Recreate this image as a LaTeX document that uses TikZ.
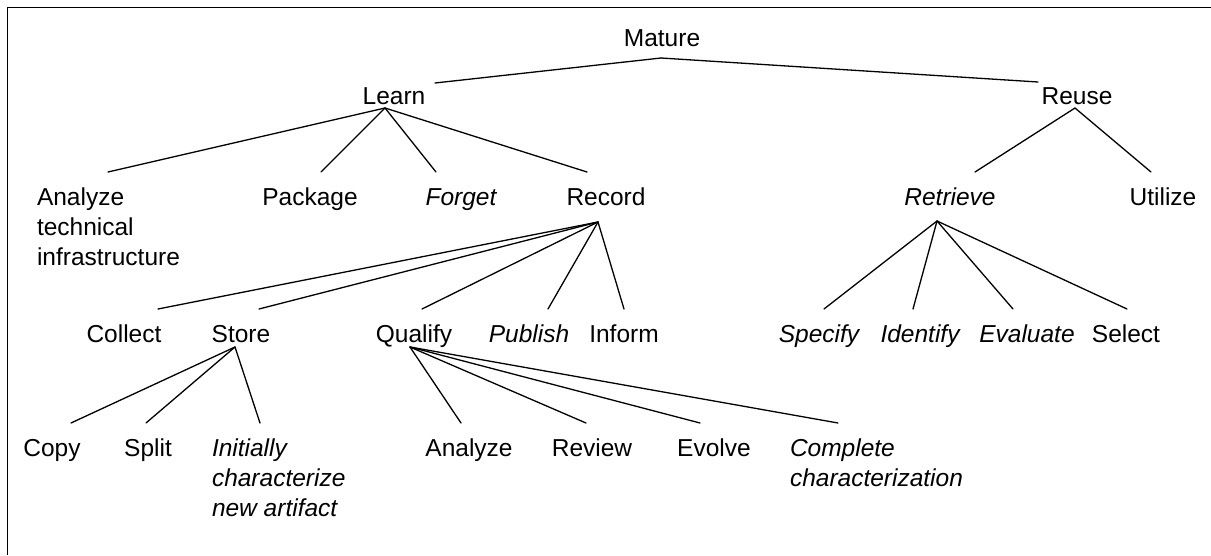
\documentclass[tikz,border=0pt]{standalone}
\usepackage{fontspec}
\setmainfont{Liberation Sans}
\usetikzlibrary{calc}
\newcommand\mlines[1]{\begin{tabular}[t]{@{}l@{}}#1\end{tabular}}
\begin{document}
\begin{tikzpicture}[x=1pt,y=-1pt,
  every node/.style={inner sep=0pt,outer sep=0pt,anchor=base,font=\fontsize{24.5}{30}\selectfont},
  it/.style={font=\fontsize{24.5}{30}\selectfont\itshape},
  ml/.style={anchor=base west},
  link/.style={line width=1.3pt,line cap=round},
  frame/.style={line width=1.6pt}]
\useasboundingbox (0,0) rectangle (1211,555);
\draw[frame] (7.5,555) |- (1211,7.5);
% level 0-1
\node (mature) at (662,46.5) {Mature};
\node (learn) at (394,104) {Learn};
\node (reuse) at (1077,104) {Reuse};
% level 2
\node[ml] (analyze) at (37,205) {\mlines{Analyze\\technical\\infrastructure}};
\node (package) at (310,205) {Package};
\node[it] (forget) at (461,205) {Forget};
\node (record) at (606,205) {Record};
\node[it] (retrieve) at (950,205) {Retrieve};
\node (utilize) at (1163,205) {Utilize};
% level 3
\node (collect) at (124,342) {Collect};
\node (store) at (241,342) {Store};
\node (qualify) at (414,342) {Qualify};
\node[it] (publish) at (529,342) {Publish};
\node (inform) at (624,342) {Inform};
\node[it] (specify) at (819,342) {Specify};
\node[it] (identify) at (920,342) {Identify};
\node[it] (evaluate) at (1027,342) {Evaluate};
\node (select) at (1126,342) {Select};
% level 4
\node (copy) at (52,456) {Copy};
\node (split) at (148,456) {Split};
\node[ml,it] (initially) at (212,456) {\mlines{Initially\\characterize\\new artifact}};
\node (analyzeq) at (469,456) {Analyze};
\node (review) at (592,456) {Review};
\node (evolve) at (714,456) {Evolve};
\node[ml,it] (complete) at (790,456) {\mlines{Complete\\characterization}};
% junctions
\coordinate (matureJ) at ($(mature.base)+(-1,11.5)$);
\coordinate (learnJ) at ($(learn.base)+(-9,4)$);
\coordinate (reuseJ) at ($(reuse.base)+(-2,4)$);
\coordinate (recordJ) at ($(record.base)+(-8,17)$);
\coordinate (retrieveJ) at ($(retrieve.base)+(-13,16)$);
\coordinate (storeJ) at ($(store.base)+(-6,5)$);
\coordinate (qualifyJ) at ($(qualify.base)+(-4,5)$);
% connectors
\draw[link] (matureJ) -- ($(learn.base)+(41,-21)$);
\draw[link] (matureJ) -- ($(reuse.base)+(-39,-22)$);
\draw[link] (learnJ) -- ($(analyze.base west)+(71,-33)$);
\draw[link] (learnJ) -- ($(package.base)+(11,-33)$);
\draw[link] (learnJ) -- ($(forget.base)+(-25,-33)$);
\draw[link] (learnJ) -- ($(record.base)+(-19,-33)$);
\draw[link] (reuseJ) -- ($(retrieve.base)+(25,-33)$);
\draw[link] (reuseJ) -- ($(utilize.base)+(-12,-33)$);
\draw[link] (recordJ) -- ($(collect.base)+(34,-33)$);
\draw[link] (recordJ) -- ($(store.base)+(18,-33)$);
\draw[link] (recordJ) -- ($(qualify.base)+(8,-33)$);
\draw[link] (recordJ) -- ($(publish.base)+(19,-33)$);
\draw[link] (recordJ) -- ($(inform.base)+(0,-33)$);
\draw[link] (retrieveJ) -- ($(specify.base)+(5,-33)$);
\draw[link] (retrieveJ) -- ($(identify.base)+(-7,-33)$);
\draw[link] (retrieveJ) -- ($(evaluate.base)+(-14,-33)$);
\draw[link] (retrieveJ) -- ($(select.base)+(1,-33)$);
\draw[link] (storeJ) -- ($(copy.base)+(19,-33)$);
\draw[link] (storeJ) -- ($(split.base)+(-2,-33)$);
\draw[link] (storeJ) -- ($(initially.base west)+(48,-33)$);
\draw[link] (qualifyJ) -- ($(analyzeq.base)+(-8,-33)$);
\draw[link] (qualifyJ) -- ($(review.base)+(-6,-33)$);
\draw[link] (qualifyJ) -- ($(evolve.base)+(-14,-33)$);
\draw[link] (qualifyJ) -- ($(complete.base west)+(48,-33)$);
\end{tikzpicture}
\end{document}
